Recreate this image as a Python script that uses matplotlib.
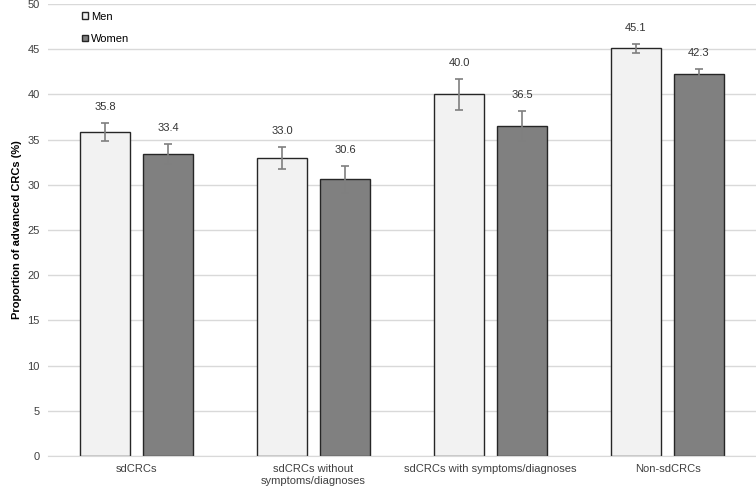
import numpy as np
import matplotlib.pyplot as plt

plt.rcParams['font.family'] = ['Liberation Sans', 'DejaVu Sans']

categories = ['sdCRCs', 'sdCRCs without\nsymptoms/diagnoses',
              'sdCRCs with symptoms/diagnoses', 'Non-sdCRCs']
men = [35.8, 33.0, 40.0, 45.1]
women = [33.4, 30.6, 36.5, 42.3]
men_err = [1.0, 1.2, 1.7, 0.5]
women_err = [1.1, 1.5, 1.7, 0.55]

x = np.arange(len(categories))
w = 0.28
off = 0.178

fig = plt.figure(figsize=(7.56, 4.88), dpi=100)
ax = fig.add_axes([48 / 756, 32 / 488, 1 - 48 / 756, 452 / 488])

ax.bar(x - off, men, w, color='#f2f2f2', edgecolor='#262626', linewidth=1.0,
       label='Men', zorder=2)
ax.bar(x + off, women, w, color='#808080', edgecolor='#262626', linewidth=1.0,
       label='Women', zorder=2)
ax.errorbar(x - off, men, yerr=men_err, fmt='none', ecolor='#7f7f7f',
            elinewidth=1.2, capsize=2.6, capthick=1.2, zorder=3)
ax.errorbar(x + off, women, yerr=women_err, fmt='none', ecolor='#7f7f7f',
            elinewidth=1.2, capsize=2.6, capthick=1.2, zorder=3)

for xi, v, e in zip(x - off, men, men_err):
    ax.annotate(f'{v:.1f}', (xi, v + e), xytext=(0, 8), textcoords='offset points',
                ha='center', va='bottom', fontsize=8, color='#333333')
for xi, v, e in zip(x + off, women, women_err):
    ax.annotate(f'{v:.1f}', (xi, v + e), xytext=(0, 8), textcoords='offset points',
                ha='center', va='bottom', fontsize=8, color='#333333')

ax.set_xlim(-0.5, 3.5)
ax.set_ylim(0, 50)
ax.set_yticks(np.arange(0, 51, 5))
ax.set_xticks(x)
ax.set_xticklabels(categories, fontsize=8, color='#404040')
ax.tick_params(axis='y', labelsize=8, colors='#404040', length=0, pad=6)
ax.tick_params(axis='x', length=0, pad=6)
ax.yaxis.grid(True, color='#d9d9d9', linewidth=1.0, zorder=0)
ax.set_axisbelow(True)
for s in ['top', 'right', 'left']:
    ax.spines[s].set_visible(False)
ax.spines['bottom'].set_color('#d9d9d9')
ax.set_ylabel('Proportion of advanced CRCs (%)', fontsize=8, fontweight='bold',
              labelpad=4)

ax.legend(loc='upper left', bbox_to_anchor=(0.037, 1.0), frameon=False, fontsize=8,
          handlelength=0.55, handleheight=0.55, handletextpad=0.3, labelspacing=1.1,
          borderaxespad=0.3)

fig.savefig('out.png', dpi=100)
